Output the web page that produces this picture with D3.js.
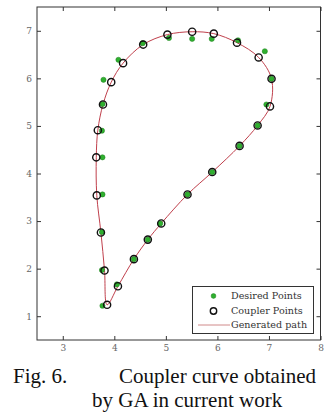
<!DOCTYPE html>
<html><head><meta charset="utf-8">
<script src="https://cdn.jsdelivr.net/npm/d3@7/dist/d3.min.js"></script>
<style>body{margin:0;background:#fff}svg{display:block}</style>
</head><body>
<script>
// Coupler points (black circles), in path order
const couplerX = [4.56, 4.17, 3.94, 3.78, 3.68, 3.65, 3.66, 3.74, 3.81, 3.86, 4.07, 4.38, 4.65, 4.91, 5.42, 5.90, 6.43, 6.78, 7.02, 7.05, 6.80, 6.38, 5.93, 5.51, 5.03];
const couplerY = [6.71, 6.32, 5.92, 5.45, 4.91, 4.34, 3.54, 2.76, 1.96, 1.24, 1.63, 2.20, 2.61, 2.95, 3.56, 4.03, 4.58, 5.01, 5.41, 5.99, 6.44, 6.75, 6.94, 6.98, 6.92];
// Desired points (green)
const desiredX = [4.55, 4.08, 3.79, 3.77, 3.76, 3.77, 3.77, 3.76, 3.76, 3.77, 4.05, 4.38, 4.65, 4.89, 5.42, 5.90, 6.43, 6.78, 6.95, 7.05, 6.92, 6.40, 5.89, 5.51, 5.06];
const desiredY = [6.74, 6.39, 5.97, 5.46, 4.90, 4.34, 3.56, 2.77, 1.97, 1.22, 1.67, 2.20, 2.61, 2.95, 3.56, 4.03, 4.58, 5.01, 5.45, 5.99, 6.57, 6.80, 6.83, 6.83, 6.85];
const xTicks = [3, 4, 5, 6, 7, 8];
const yTicks = [1, 2, 3, 4, 5, 6, 7];
const legendLabels = ["Desired Points", "Coupler Points", "Generated path"];
const captionParts = [
  {text: "Fig. 6.", line: 0, col: 0},
  {text: "Coupler curve obtained", line: 0, col: 1},
  {text: "by GA in current work", line: 1, col: 2}
];

const W = 330, H = 412;
const svg = d3.select("body").append("svg").attr("width", W).attr("height", H);
const L = 37, R = 320.5, T = 7, B = 340;
const x = d3.scaleLinear().domain([2.5, 8]).range([L, R]);
const y = d3.scaleLinear().domain([0.5, 7.5]).range([B, T]);
const tickFont = "'DejaVu Serif', serif";
const axisCol = "#333";

// axes with inside ticks
const gx = svg.append("g").attr("transform", `translate(0,${B})`)
  .call(d3.axisBottom(x).tickValues(xTicks).tickSizeInner(-4).tickSizeOuter(0).tickPadding(5).tickFormat(d3.format("d")));
const gxt = svg.append("g").attr("transform", `translate(0,${T})`)
  .call(d3.axisTop(x).tickValues(xTicks).tickSizeInner(-4).tickSizeOuter(0).tickFormat(""));
const gy = svg.append("g").attr("transform", `translate(${L},0)`)
  .call(d3.axisLeft(y).tickValues(yTicks).tickSizeInner(-4).tickSizeOuter(0).tickPadding(5).tickFormat(d3.format("d")));
const gyr = svg.append("g").attr("transform", `translate(${R},0)`)
  .call(d3.axisRight(y).tickValues(yTicks).tickSizeInner(-4).tickSizeOuter(0).tickFormat(""));
[gx, gxt, gy, gyr].forEach(g => {
  g.select(".domain").remove();
  g.selectAll("line").attr("stroke", axisCol);
  g.selectAll("text").attr("fill", "#666").style("font-family", tickFont).style("font-size", "9px");
});
svg.append("rect").attr("x", L).attr("y", T).attr("width", R - L).attr("height", B - T)
  .attr("fill", "none").attr("stroke", axisCol).attr("stroke-width", 1);

// generated path through coupler points
const pts = couplerX.map((v, i) => [x(v), y(couplerY[i])]);
svg.append("path").attr("d", d3.line().curve(d3.curveCatmullRomClosed.alpha(0.5))(pts))
  .attr("fill", "none").attr("stroke", "#c0404c").attr("stroke-width", 1);

// desired points
svg.append("g").selectAll("circle").data(desiredX).join("circle")
  .attr("cx", d => x(d)).attr("cy", (d, i) => y(desiredY[i])).attr("r", 2.6)
  .attr("fill", "#2fb02f").attr("stroke", "#1f7f1f").attr("stroke-width", 0.5);

// coupler points
svg.append("g").selectAll("circle").data(couplerX).join("circle")
  .attr("cx", d => x(d)).attr("cy", (d, i) => y(couplerY[i])).attr("r", 3.6)
  .attr("fill", "none").attr("stroke", "#111").attr("stroke-width", 1.4);

// legend
const lg = svg.append("g");
lg.append("rect").attr("x", 192.5).attr("y", 286.5).attr("width", 121).attr("height", 47)
  .attr("fill", "#fff").attr("stroke", axisCol).attr("stroke-width", 1);
const ly = [296, 311, 325];
lg.append("circle").attr("cx", 213.5).attr("cy", ly[0]).attr("r", 2.4).attr("fill", "#2fb02f").attr("stroke", "#1f7f1f").attr("stroke-width", 0.5);
lg.append("circle").attr("cx", 213.5).attr("cy", ly[1]).attr("r", 3.2).attr("fill", "none").attr("stroke", "#111").attr("stroke-width", 1.4);
lg.append("line").attr("x1", 198).attr("x2", 230).attr("y1", ly[2]).attr("y2", ly[2]).attr("stroke", "#d08a8a").attr("stroke-width", 1);
lg.selectAll("text").data(legendLabels).join("text")
  .attr("x", 231).attr("y", (d, i) => ly[i]).attr("dy", "0.35em")
  .style("font-family", tickFont).style("font-size", "9.6px")
  .attr("fill", "#333").text(d => d);

// caption
const capX = [13, 119, 92];
const capY = [383, 407];
svg.selectAll("text.cap").data(captionParts).join("text").attr("class", "cap")
  .attr("x", d => capX[d.col]).attr("y", d => capY[d.line])
  .style("font-family", "'Liberation Serif', serif").style("font-size", "21px").attr("fill", "#111").text(d => d.text);
</script>
</body></html>
